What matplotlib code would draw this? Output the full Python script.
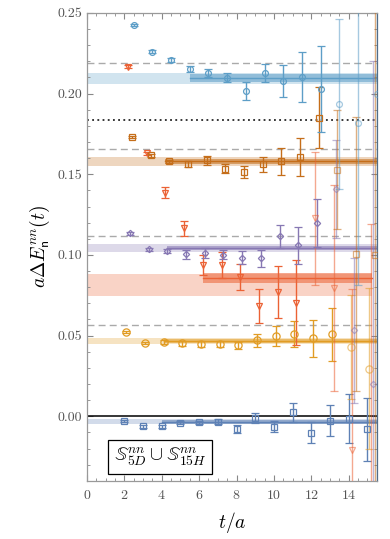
import numpy as np
import matplotlib
matplotlib.use("Agg")
import matplotlib.pyplot as plt
from matplotlib.ticker import MultipleLocator, FormatStrFormatter

plt.rcParams['font.family'] = 'serif'
plt.rcParams['font.serif'] = ['cmr10', 'DejaVu Serif']
plt.rcParams['mathtext.fontset'] = 'cm'
plt.rcParams['axes.unicode_minus'] = False
plt.rcParams['axes.formatter.use_mathtext'] = True

# time slices
t = np.arange(2, 16)

# effective energy shifts and errors, one level per list
e0 = [-0.0029, -0.0062, -0.0062, -0.0039, -0.0037, -0.0033, -0.0079, -0.0010, -0.0066, 0.0025, -0.0101, -0.0027, -0.0014, -0.0081]
e0_err = [0.0007, 0.0008, 0.0008, 0.0010, 0.0010, 0.0013, 0.0027, 0.0030, 0.0034, 0.0060, 0.0065, 0.0095, 0.0154, 0.0197]
e1 = [0.0523, 0.0455, 0.0459, 0.0451, 0.0449, 0.0449, 0.0440, 0.0471, 0.0498, 0.0509, 0.0482, 0.0507, 0.0430, 0.0296]
e1_err = [0.0008, 0.0008, 0.0012, 0.0017, 0.0018, 0.0020, 0.0022, 0.0040, 0.0060, 0.0080, 0.0116, 0.0166, 0.0320, 0.0500]
e2 = [0.2167, 0.1630, 0.1385, 0.1164, 0.0939, 0.0939, 0.0864, 0.0682, 0.0769, 0.0703, 0.1226, 0.0796, -0.0207, -0.0600]
e2_err = [0.0008, 0.0010, 0.0033, 0.0047, 0.0062, 0.0080, 0.0081, 0.0105, 0.0163, 0.0264, 0.0410, 0.0640, 0.0993, 0.1790]
e3 = [0.1133, 0.1036, 0.1024, 0.1003, 0.1014, 0.1002, 0.0984, 0.0978, 0.1115, 0.1059, 0.1197, 0.1408, 0.0533, 0.0200]
e3_err = [0.0008, 0.0010, 0.0010, 0.0028, 0.0030, 0.0030, 0.0040, 0.0050, 0.0072, 0.0115, 0.0150, 0.0304, 0.0450, 0.2000]
e4 = [0.1731, 0.1617, 0.1580, 0.1563, 0.1586, 0.1534, 0.1512, 0.1561, 0.1580, 0.1607, 0.1851, 0.1528, 0.1004, 0.1000]
e4_err = [0.0008, 0.0010, 0.0010, 0.0020, 0.0027, 0.0028, 0.0038, 0.0048, 0.0083, 0.0117, 0.0190, 0.0370, 0.0850, 0.3000]
e5 = [0.2426, 0.2260, 0.2208, 0.2153, 0.2128, 0.2097, 0.2018, 0.2126, 0.2078, 0.2103, 0.2030, 0.1933, 0.1816, 0.2000]
e5_err = [0.0008, 0.0008, 0.0010, 0.0020, 0.0027, 0.0028, 0.0056, 0.0056, 0.0102, 0.0152, 0.0268, 0.0527, 0.1000, 0.4000]

# fitted plateaus: (centre, half width) for the wide band and the fit-range band
fit_wide = [(-0.0034, 0.0017), (0.0468, 0.0020), (0.0813, 0.0068), (0.1043, 0.0024), (0.1579, 0.0026), (0.2094, 0.0036)]
fit_range = [(-0.0037, 0.0011), (0.0467, 0.0012), (0.0856, 0.0030), (0.1042, 0.0014), (0.1580, 0.0016), (0.2097, 0.0022)]
fit_tmin = [4.0, 4.1, 6.2, 4.3, 4.2, 5.5]

# non-interacting thresholds
thresholds = [0.0563, 0.1115, 0.1656, 0.2188]
dotted_level = 0.1836

levels = [(e0, e0_err), (e1, e1_err), (e2, e2_err), (e3, e3_err), (e4, e4_err), (e5, e5_err)]
colors = ['#5e81b5', '#e19c24', '#eb6235', '#8778b3', '#c56e1a', '#5d9ec7']
markers = ['s', 'o', 'v', 'D', 's', 'o']
msizes = [4.2, 5.2, 4.4, 3.2, 4.2, 4.2]
shifts = [0.0, 0.1, 0.2, 0.3, 0.4, 0.5]
xmax = 15.5
band_end = [xmax, xmax, 15.25, xmax, xmax, xmax]

fig = plt.figure(figsize=(3.9, 5.39), dpi=100)
ax = fig.add_axes([0.223, 0.108, 0.743, 0.868])

for i in range(6):
    c = colors[i]
    cw, hw = fit_wide[i]
    ax.fill_between([0, band_end[i]], cw - hw, cw + hw, color=c, alpha=0.28, lw=0, zorder=1)
    cr, hr = fit_range[i]
    ax.fill_between([fit_tmin[i], band_end[i]], cr - hr, cr + hr, color=c, alpha=0.55, lw=0, zorder=1)
    ax.plot([fit_tmin[i], band_end[i]], [cr, cr], color=c, lw=1.0, zorder=1)

for y in thresholds:
    ax.axhline(y, color='#aaaaaa', ls=(0, (5, 3)), lw=1.0, zorder=2)
ax.axhline(dotted_level, color='black', ls=(0, (1.2, 2.2)), lw=1.1, zorder=2)
ax.axhline(0.0, color='black', lw=1.1, zorder=2)

for i, (vals, errs) in enumerate(levels):
    vals = np.array(vals)
    errs = np.array(errs)
    x = t + shifts[i]
    for xi, v, e in zip(x, vals, errs):
        a = 1.0 if e < 0.03 else 0.55
        ax.errorbar(xi, v, yerr=e, fmt=markers[i], ms=msizes[i], mfc='none',
                    mec=colors[i], mew=0.9, color=colors[i], elinewidth=1.0,
                    capsize=3.2, capthick=1.0, alpha=a, zorder=3)

ax.set_xlim(0, xmax)
ax.set_ylim(-0.04, 0.25)
ax.xaxis.set_major_locator(MultipleLocator(2))
ax.xaxis.set_minor_locator(MultipleLocator(0.5))
ax.yaxis.set_major_locator(MultipleLocator(0.05))
ax.yaxis.set_minor_locator(MultipleLocator(0.01))
ax.yaxis.set_major_formatter(FormatStrFormatter('%.2f'))
ax.tick_params(which='both', direction='in', top=True, right=True, colors='#888888',
               labelcolor='#555555', labelsize=10)
ax.tick_params(axis='x', which='major', pad=6)
ax.tick_params(which='major', length=4, width=0.8)
ax.tick_params(which='minor', length=2, width=0.6)
for s in ax.spines.values():
    s.set_color('#999999')
    s.set_linewidth(0.9)
ax.spines['right'].set_color('#4f6d8a')

ax.set_xlabel(r'$t/a$', fontsize=14, labelpad=6)
ax.set_ylabel(r'$a\Delta E^{nn}_{\mathsf{n}}(t)$', fontsize=14, labelpad=4)

ax.text(0.252, 0.051, r'$\mathbb{S}^{nn}_{5D}\cup\mathbb{S}^{nn}_{15H}$', transform=ax.transAxes,
        ha='center', va='center', fontsize=14, zorder=5,
        bbox=dict(boxstyle='square,pad=0.3', fc='white', ec='black', lw=0.9))

fig.savefig('out.png', dpi=100)
